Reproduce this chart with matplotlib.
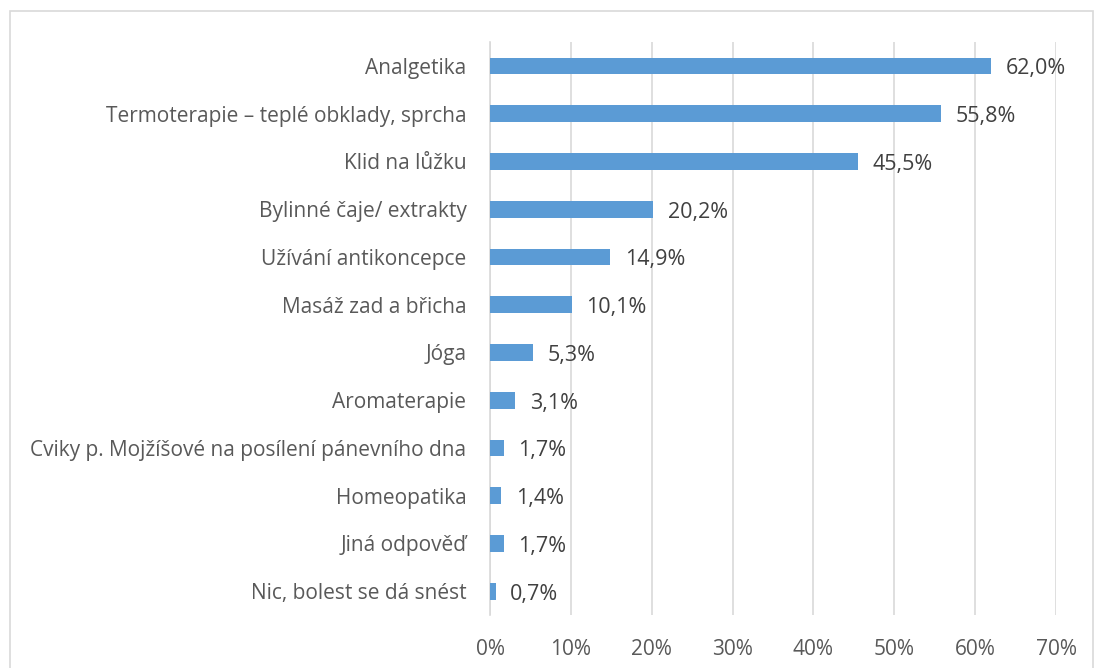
import numpy as np
import matplotlib.pyplot as plt
from matplotlib.patches import Rectangle

plt.rcParams['font.family'] = ['Open Sans', 'DejaVu Sans']

# Data (top to bottom)
categories = [
    'Analgetika',
    'Termoterapie – teplé obklady, sprcha',
    'Klid na lůžku',
    'Bylinné čaje/ extrakty',
    'Užívání antikoncepce',
    'Masáž zad a břicha',
    'Jóga',
    'Aromaterapie',
    'Cviky p. Mojžíšové na posílení pánevního dna',
    'Homeopatika',
    'Jiná odpověď',
    'Nic, bolest se dá snést',
]
values = [62.0, 55.8, 45.5, 20.2, 14.9, 10.1, 5.3, 3.1, 1.7, 1.4, 1.7, 0.7]
xticks = [0, 10, 20, 30, 40, 50, 60, 70]

text_color = '#595959'
value_color = '#404040'
grid_color = '#D9D9D9'
bar_color = '#5B9BD5'

fig = plt.figure(figsize=(10.94, 6.68), dpi=100)
ax = fig.add_axes([0.4479, 0.0793, 0.5174, 0.8578])

# light border round the chart area
fig.patches.append(Rectangle((0.009, -0.01), 0.99, 0.993, transform=fig.transFigure,
                             fill=False, edgecolor=grid_color, linewidth=1.2))

y = np.arange(len(categories))
ax.barh(y, values, height=0.35, color=bar_color, zorder=3)

for yi, v in zip(y, values):
    ax.text(v + 1.8, yi + 0.06, f'{v:.1f}%'.replace('.', ','), va='center', ha='left',
            fontsize=15.5, color=value_color)

ax.set_xlim(0, 70)
ax.set_ylim(len(categories) - 0.5, -0.5)
ax.set_yticks(y)
ax.set_yticklabels(categories, fontsize=15, color=text_color)
ax.set_xticks(xticks)
ax.set_xticklabels([f'{t}%' for t in xticks], fontsize=15, color=text_color)
ax.tick_params(axis='both', length=0)
ax.tick_params(axis='y', pad=17)
ax.tick_params(axis='x', pad=17)

ax.grid(axis='x', color=grid_color, linewidth=1.2, zorder=0)
for s in ['top', 'right', 'bottom']:
    ax.spines[s].set_visible(False)
ax.spines['left'].set_color(grid_color)
ax.spines['left'].set_linewidth(1.2)

fig.savefig('out.png', dpi=100)
